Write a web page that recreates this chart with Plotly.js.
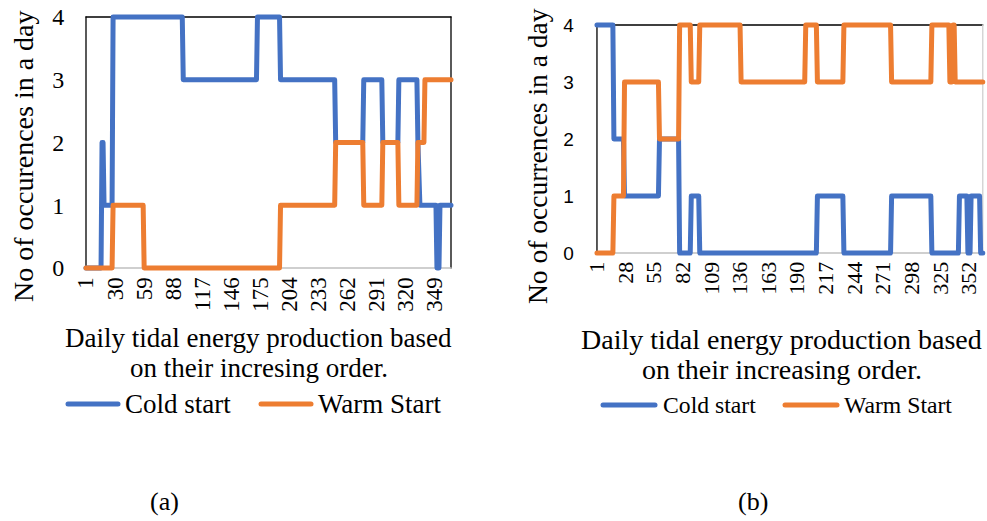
<!DOCTYPE html>
<html><head><meta charset="utf-8">
<script src="https://cdn.plot.ly/plotly-3.0.1.min.js"></script>
<style>
html,body{margin:0;padding:0;background:#fff}
#chart path.js-line{stroke-linejoin:round;stroke-linecap:round}
#chart .shapelayer path{stroke-linecap:round}
</style>
</head><body><div id="chart" style="width:987px;height:521px"></div>
<script>
// ---- data (run-length: value held for N consecutive days, in increasing-production order) ----
const coldA_vals = [0, 2, 1, 4, 3, 4, 3, 2, 3, 2, 3, 2, 1, 0, 1];
const coldA_lens = [16, 2, 9, 70, 74, 23, 55, 28, 19, 16, 19, 1, 18, 3, 12];
const warmA_vals = [0, 1, 0, 1, 2, 1, 2, 1, 2, 3];
const warmA_lens = [27, 31, 136, 55, 28, 19, 16, 19, 7, 27];
const coldB_vals = [4, 2, 1, 2, 0, 1, 0, 1, 0, 1, 0, 1, 0, 1, 0];
const coldB_lens = [16, 10, 33, 19, 11, 8, 111, 25, 45, 38, 26, 8, 3, 9, 3];
const warmB_vals = [0, 1, 3, 2, 4, 3, 4, 3, 4, 3, 4, 3, 4, 3, 4, 3];
const warmB_lens = [16, 10, 33, 19, 11, 8, 39, 61, 11, 25, 45, 38, 17, 3, 2, 27];
const ticksA = [1, 30, 59, 88, 117, 146, 175, 204, 233, 262, 291, 320, 349];
const ticksB = [1, 28, 55, 82, 109, 136, 163, 190, 217, 244, 271, 298, 325, 352];
const yTicks = [0, 1, 2, 3, 4];
const seriesNames = ['Cold start', 'Warm Start'];
const yTitleA = 'No of occurences in a day';
const yTitleB = 'No of occurrences in a day';
const xTitleA = ['Daily tidal energy production based', 'on their incresing order.'];
const xTitleB = ['Daily tidal energy production based', 'on their increasing order.'];
const panelLabels = ['(a)', '(b)'];

function expand(vals, lens) {
  const out = [];
  vals.forEach((v, i) => { for (let k = 0; k < lens[i]; k++) out.push(v); });
  return out;
}
const coldA = expand(coldA_vals, coldA_lens);
const warmA = expand(warmA_vals, warmA_lens);
const coldB = expand(coldB_vals, coldB_lens);
const warmB = expand(warmB_vals, warmB_lens);
const days = coldA.map((_, i) => i + 1);
const dMin = days[0], dMax = days[days.length - 1];
const yMin = yTicks[0], yMax = yTicks[yTicks.length - 1];

// ---- layout helpers ----
const W = 987, H = 521;
const BLUE = '#4472C4', ORANGE = '#ED7D31';
const SERIF = 'Liberation Serif, Times New Roman, serif';
const SANS = 'Liberation Sans, Arial, sans-serif';
const xPad = 4, yPad = 0.06;
function box(l, r, t, b) {
  const ppx = (r - l) / (dMax - dMin), ppy = (b - t) / (yMax - yMin);
  return {
    xd: [(l - xPad * ppx) / W, (r + xPad * ppx) / W],
    yd: [1 - (b + yPad * ppy) / H, 1 - (t - yPad * ppy) / H]
  };
}
const bA = box(86, 451, 17, 268);
const bB = box(597, 986, 25, 253);
const px = v => v / W, py = v => 1 - v / H;

const traces = [
  {x: days, y: coldA, xaxis: 'x', yaxis: 'y', mode: 'lines', name: seriesNames[0], line: {color: BLUE, width: 5}},
  {x: days, y: warmA, xaxis: 'x', yaxis: 'y', mode: 'lines', name: seriesNames[1], line: {color: ORANGE, width: 5}},
  {x: days, y: coldB, xaxis: 'x2', yaxis: 'y2', mode: 'lines', name: seriesNames[0], line: {color: BLUE, width: 5}},
  {x: days, y: warmB, xaxis: 'x2', yaxis: 'y2', mode: 'lines', name: seriesNames[1], line: {color: ORANGE, width: 5}}
];

function xax(dom, ticks, anchor, size) {
  return {domain: dom, anchor: anchor, range: [dMin - xPad, dMax + xPad], tickmode: 'array',
    tickvals: ticks, ticktext: ticks.map(String), tickangle: -90,
    tickfont: {family: SERIF, size: size, color: '#000'}, showgrid: false, zeroline: false,
    showline: false, ticks: '', fixedrange: true};
}
function yax(dom, anchor, font, len) {
  return {domain: dom, anchor: anchor, range: [yMin - yPad, yMax + yPad], tickmode: 'array',
    tickvals: yTicks, ticktext: yTicks.map(String), tickfont: font, showgrid: false, zeroline: false,
    showline: false, ticks: 'outside', ticklen: len, tickcolor: 'rgba(0,0,0,0)', fixedrange: true};
}

function frame(xr, yr, rightColor) {
  const L = (x0, y0, x1, y1, c, w) => ({type: 'line', xref: xr, yref: yr, x0, y0, x1, y1, layer: 'below', line: {color: c, width: w}});
  return [
    L(dMin, yMin, dMin, yMax, '#000', 1.3),
    L(dMin, yMax, dMax, yMax, '#000', 1.3),
    L(dMax, yMin, dMax, yMax, rightColor, 1.3),
    L(dMin, yMin, dMax, yMin, '#c0c0c0', 1.6)
  ];
}
function legLine(x0, x1, y, c) {
  return {type: 'line', xref: 'paper', yref: 'paper', x0: px(x0), x1: px(x1), y0: py(y), y1: py(y), line: {color: c, width: 5}};
}
function ann(text, x, y, size, opts) {
  return Object.assign({text, xref: 'paper', yref: 'paper', x: px(x), y: py(y), showarrow: false,
    xanchor: 'center', yanchor: 'middle', font: {family: SERIF, size, color: '#000'}}, opts || {});
}

const layout = {
  width: W, height: H, margin: {l: 0, r: 0, t: 0, b: 0}, paper_bgcolor: '#fff', plot_bgcolor: '#fff',
  showlegend: false,
  xaxis: xax(bA.xd, ticksA, 'y', 23),
  yaxis: yax(bA.yd, 'x', {family: SERIF, size: 24, color: '#000'}, 12),
  xaxis2: xax(bB.xd, ticksB, 'y2', 22),
  yaxis2: yax(bB.yd, 'x2', {family: SANS, size: 19, color: '#000'}, 14),
  shapes: [].concat(frame('x', 'y', '#000'), frame('x2', 'y2', '#d0d0d0'), [
    legLine(68, 118, 404, BLUE), legLine(261, 311, 404, ORANGE),
    legLine(603, 655, 405, BLUE), legLine(785, 837, 405, ORANGE)
  ]),
  annotations: [
    ann(yTitleA, 23, 156, 28, {textangle: -90}),
    ann(yTitleB, 537, 156, 27.5, {textangle: -90}),
    ann(xTitleA[0], 258.5, 338, 27),
    ann(xTitleA[1], 259, 368, 27),
    ann(xTitleB[0], 781.5, 339, 28),
    ann(xTitleB[1], 782, 369, 28),
    ann(seriesNames[0], 123, 404, 27, {xanchor: 'left'}),
    ann(seriesNames[1], 316, 404, 27, {xanchor: 'left'}),
    ann(seriesNames[0], 661, 405, 23.7, {xanchor: 'left'}),
    ann(seriesNames[1], 842, 405, 23.7, {xanchor: 'left'}),
    ann(panelLabels[0], 164, 501, 26),
    ann(panelLabels[1], 753, 501, 26)
  ]
};
Plotly.newPlot('chart', traces, layout, {staticPlot: true, displayModeBar: false});
</script></body></html>
